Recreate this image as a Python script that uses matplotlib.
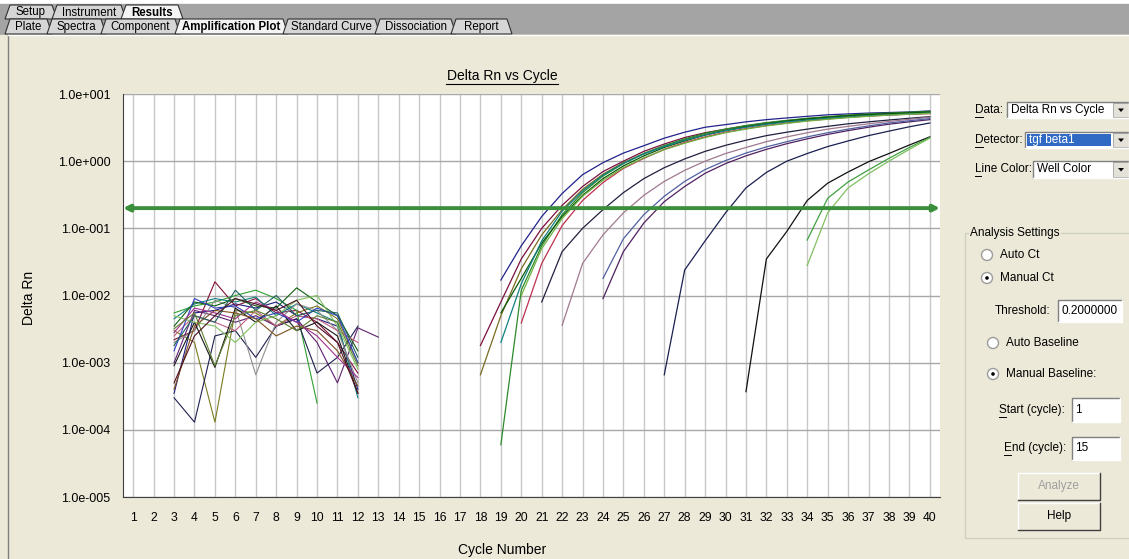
import matplotlib.pyplot as plt
from matplotlib.patches import Rectangle, Polygon, Circle

# ---- data ----
cycles = list(range(1, 41))
decade_ticks = [1e-5, 1e-4, 1e-3, 1e-2, 1e-1, 1e0, 1e1]
decade_labels = ["1.0e-005", "1.0e-004", "1.0e-003", "1.0e-002",
                 "1.0e-001", "1.0e+000", "1.0e+001"]
threshold = 0.2

# baseline noise, values x 1e-3, first cycle in noise_start
noise_start = [3] * 18
noise_values = [
    [0.35, 5.5, 6.0, 7.5, 6.5, 8.0, 5.0, 4.5, 3.5, 0.4],
    [2.2, 3.0, 16.0, 7.0, 9.0, 5.5, 6.0, 4.0, 2.0, 0.7],
    [5.5, 7.0, 8.0, 10.0, 12.0, 9.0, 6.0, 0.25],
    [3.0, 2.0, 0.13, 6.0, 5.5, 3.5, 5.5, 7.0, 4.5, 1.0],
    [4.5, 7.5, 9.0, 8.0, 9.5, 5.0, 7.5, 5.5, 4.0, 0.3],
    [1.0, 6.0, 5.0, 4.0, 5.0, 3.5, 4.5, 2.0, 0.5, 3.3, 2.4],
    [0.3, 0.13, 2.5, 3.0, 1.2, 3.5, 4.5, 0.7, 1.2, 3.5],
    [2.0, 3.0, 8.5, 6.5, 0.66, 4.0, 7.5, 6.0, 3.0, 0.5],
    [3.5, 8.0, 7.0, 9.0, 7.0, 6.5, 13.0, 8.0, 5.0, 1.5],
    [2.5, 5.0, 4.0, 3.0, 6.0, 3.5, 5.0, 4.5, 3.0, 2.0],
    [0.9, 4.0, 0.85, 6.5, 4.0, 7.0, 3.0, 4.0, 2.5, 0.35],
    [5.0, 4.0, 3.5, 2.0, 4.0, 5.0, 8.5, 10.0, 3.5, 0.8],
    [1.5, 9.0, 6.5, 7.0, 4.5, 5.5, 4.0, 6.5, 5.0, 1.0],
    [0.4, 3.5, 6.0, 5.5, 4.5, 2.5, 3.5, 3.0, 1.5, 0.45],
    [2.8, 6.5, 5.5, 4.5, 8.0, 6.0, 4.0, 2.5, 1.2, 0.6],
    [1.8, 5.0, 4.0, 12.0, 6.0, 10.0, 5.0, 6.0, 5.5, 1.2],
    [3.2, 5.5, 0.9, 5.0, 6.0, 4.5, 3.0, 5.0, 4.0, 0.9],
    [0.5, 2.5, 5.0, 9.0, 7.5, 6.0, 8.5, 3.5, 2.0, 0.35],
]
noise_colors = ["#1c1c80", "#801038", "#30a030", "#7a7a20", "#108080", "#602070",
                "#202050", "#909090", "#106010", "#c06080", "#181818", "#80c060",
                "#3040c0", "#805020", "#a03090", "#206060", "#608030", "#501020"]

# amplification curves, first cycle in amp_start
amp_start = [19, 18, 18, 19, 19, 20, 19, 20, 21, 22, 24, 24, 27, 31, 34, 34]
amp_values = [
    [0.017, 0.055, 0.15, 0.33, 0.63, 0.95, 1.32, 1.7, 2.2, 2.7, 3.2, 3.5, 3.85,
     4.15, 4.4, 4.65, 4.9, 5.05, 5.2, 5.3, 5.4, 5.6],
    [0.0018, 0.008, 0.035, 0.1, 0.22, 0.42, 0.7, 1.0, 1.4, 1.8, 2.25, 2.65, 3.0,
     3.35, 3.7, 4.0, 4.3, 4.55, 4.75, 4.95, 5.1, 5.25, 5.4],
    [0.00066, 0.005, 0.025, 0.08, 0.19, 0.38, 0.64, 0.95, 1.3, 1.7, 2.1, 2.5, 2.9,
     3.25, 3.6, 3.9, 4.2, 4.45, 4.65, 4.85, 5.0, 5.15, 5.3],
    [0.00006, 0.012, 0.055, 0.16, 0.34, 0.6, 0.92, 1.3, 1.7, 2.15, 2.6, 3.0, 3.4,
     3.75, 4.05, 4.35, 4.6, 4.85, 5.05, 5.2, 5.35, 5.5],
    [0.0055, 0.018, 0.06, 0.15, 0.31, 0.55, 0.85, 1.2, 1.6, 2.0, 2.45, 2.85, 3.25,
     3.6, 3.95, 4.25, 4.5, 4.75, 4.95, 5.1, 5.25, 5.4],
    [0.0039, 0.03, 0.11, 0.26, 0.48, 0.78, 1.1, 1.5, 1.9, 2.3, 2.7, 3.05, 3.4,
     3.7, 4.0, 4.25, 4.5, 4.7, 4.85, 5.0, 5.1],
    [0.002, 0.015, 0.065, 0.18, 0.36, 0.62, 0.93, 1.28, 1.65, 2.05, 2.45, 2.85,
     3.2, 3.55, 3.85, 4.1, 4.35, 4.55, 4.75, 4.9, 5.05, 5.2],
    [0.01, 0.05, 0.14, 0.3, 0.52, 0.8, 1.12, 1.48, 1.85, 2.25, 2.65, 3.0, 3.35,
     3.65, 3.95, 4.2, 4.45, 4.65, 4.85, 5.0, 5.15],
    [0.008, 0.045, 0.1, 0.19, 0.34, 0.55, 0.8, 1.08, 1.4, 1.72, 2.05, 2.4, 2.7,
     3.0, 3.3, 3.6, 3.85, 4.1, 4.35, 4.6],
    [0.0036, 0.03, 0.08, 0.17, 0.31, 0.5, 0.73, 1.0, 1.3, 1.6, 1.95, 2.3, 2.65,
     3.0, 3.3, 3.6, 3.9, 4.2, 4.5],
    [0.009, 0.045, 0.12, 0.25, 0.42, 0.66, 0.92, 1.2, 1.5, 1.82, 2.15, 2.5, 2.85,
     3.2, 3.55, 3.85, 4.15],
    [0.018, 0.07, 0.16, 0.3, 0.5, 0.75, 1.02, 1.32, 1.63, 1.95, 2.3, 2.65, 3.0,
     3.35, 3.7, 4.0, 4.3],
    [0.00066, 0.024, 0.065, 0.17, 0.4, 0.68, 1.0, 1.3, 1.65, 2.0, 2.4, 2.8, 3.25, 3.7],
    [0.00037, 0.035, 0.09, 0.26, 0.47, 0.69, 0.98, 1.3, 1.74, 2.3],
    [0.067, 0.28, 0.49, 0.74, 1.1, 1.6, 2.25],
    [0.028, 0.17, 0.4, 0.65, 1.0, 1.5, 2.2],
]
amp_colors = ["#22228c", "#7a1040", "#7a6a20", "#2a8a2a", "#0a5a0a", "#c03050",
              "#108080", "#70b040", "#202040", "#a07890", "#502060", "#5060a0",
              "#1a2050", "#101010", "#40a040", "#80c060"]

BG = "#ECE9D8"
W, H = 1129, 559
font = "Liberation Sans"

fig = plt.figure(figsize=(W / 100, H / 100), dpi=100, facecolor=BG)

# overlay in pixel coordinates for the window chrome
ui = fig.add_axes([0, 0, 1, 1], zorder=-1)
ui.set_xlim(0, W)
ui.set_ylim(H, 0)
ui.axis("off")

# tab strip
ui.add_patch(Rectangle((0, 0), W, 4, color="white"))
ui.add_patch(Rectangle((0, 4), W, 31, color="#a4a4a4"))
ui.add_patch(Rectangle((0, 35), W, H - 35, color=BG))
ui.plot([8, 8], [35, H], color="#808080", lw=1)
ui.plot([8, W], [35, 35], color="#ffffff", lw=1)


def tab(x0, x1, y0, y1, label, selected):
    fc = "#f4f4f4" if selected else "#d6d6d6"
    ui.add_patch(Polygon([(x0, y1), (x0 + 5, y0), (x1 - 5, y0), (x1, y1)],
                         closed=True, fc=fc, ec="#303030", lw=0.8))
    ui.text((x0 + x1) / 2, (y0 + y1) / 2 + 0.5, label, ha="center", va="center",
            fontsize=8.3, family=font, weight="bold" if selected else "normal")


row1 = [("Setup", 5, 57), ("Instrument", 52, 126), ("Results", 121, 183)]
row2 = [("Plate", 5, 52), ("Spectra", 47, 106), ("Component", 101, 180),
        ("Amplification Plot", 175, 288), ("Standard Curve", 283, 380),
        ("Dissociation", 375, 456), ("Report", 451, 512)]
for lab, a, b in row1:
    tab(a, b, 5, 19, lab, lab == "Results")
for lab, a, b in row2:
    tab(a, b, 19, 34, lab, lab == "Amplification Plot")

# plot titles
ui.text(502, 76, "Delta Rn vs Cycle", ha="center", va="center", fontsize=10, family=font)
ui.plot([446, 558], [83.5, 83.5], color="black", lw=0.8)
ui.text(502, 550, "Cycle Number", ha="center", va="center", fontsize=10, family=font)
ui.text(29, 298, "Delta Rn", ha="center", va="center", rotation=90, fontsize=10, family=font)


def label(x, y, text, ul=0, **kw):
    # text with the first `ul` pixels underlined (keyboard accelerator)
    ui.text(x, y, text, va="center", fontsize=8.5, family=font, **kw)
    if ul:
        ui.plot([x, x + ul], [y + 6.5, y + 6.5], color="black", lw=0.7)


# right-hand controls
def sunken(x, y, w, h, fc="white"):
    ui.add_patch(Rectangle((x, y), w, h, fc=fc, ec="none"))
    ui.plot([x, x, x + w], [y + h, y, y], color="#808080", lw=1)
    ui.plot([x + w, x + w, x], [y, y + h, y + h], color="#ffffff", lw=1)


def combo(x, y, w, h, text, lab, label_x, ul, highlight=False):
    sunken(x, y, w, h)
    if highlight:
        ui.add_patch(Rectangle((x + 2, y + 2), w - 20, h - 4, fc="#316ac5", ec="none"))
    ui.text(x + 4, y + h / 2, text, va="center", fontsize=8.5, family=font,
            color="white" if highlight else "black")
    bx = x + w - 16
    ui.add_patch(Rectangle((bx, y + 1), 16, h - 2, fc="#e4e2d8", ec="#a0a0a0", lw=0.6))
    ui.add_patch(Polygon([(bx + 5, y + h / 2 - 1.5), (bx + 11, y + h / 2 - 1.5),
                          (bx + 8, y + h / 2 + 2)], closed=True, fc="black", ec="none"))
    label(label_x, y + h / 2, lab, ul)


combo(1007, 102, 122, 16, "Delta Rn vs Cycle", "Data:", 975, 8)
combo(1025, 132, 104, 16, "tgf beta1", "Detector:", 975, 8, highlight=True)
combo(1033, 161, 96, 17, "Well Color", "Line Color:", 975, 6)

# group box
ui.add_patch(Rectangle((965, 233), 200, 305, fc="none", ec="#d0d0bf", lw=1))
ui.text(970, 233, "Analysis Settings", va="center", fontsize=8.5, family=font,
        bbox=dict(fc=BG, ec="none", pad=1))


def radio(x, y, text, on):
    ui.add_patch(Circle((x, y), 5.5, fc="white", ec="#9c9c9c", lw=1))
    if on:
        ui.add_patch(Circle((x, y), 1.8, fc="black", ec="none"))
    ui.text(x + 13, y, text, va="center", fontsize=8.5, family=font)


radio(987, 255, "Auto Ct", False)
radio(987, 278, "Manual Ct", True)
radio(993, 343, "Auto Baseline", False)
radio(993, 374, "Manual Baseline:", True)

label(995, 311, "Threshold:")
sunken(1058, 300, 64, 22)
label(1061, 311, "0.2000000")
label(999, 410, "Start (cycle):", 7)
sunken(1072, 398, 48, 24)
label(1075, 410, "1")
label(1004, 448, "End (cycle):", 7)
sunken(1072, 437, 48, 23)
label(1075, 448, "15")


def button(x, y, w, h, text, enabled):
    ui.add_patch(Rectangle((x, y), w, h, fc=BG, ec="none"))
    ui.plot([x, x, x + w], [y + h, y, y], color="#ffffff", lw=1)
    ui.plot([x + w, x + w, x], [y, y + h, y + h], color="#404040", lw=1)
    ui.text(x + w / 2, y + h / 2, text, ha="center", va="center", fontsize=8.5,
            family=font, color="black" if enabled else "#a0a0a0")


button(1018, 473, 82, 27, "Analyze", False)
button(1018, 503, 82, 27, "Help", True)

# ---- the amplification plot ----
ax = fig.add_axes([123 / W, 1 - 497 / H, (940 - 123) / W, (497 - 94) / H])
ax.set_facecolor("white")
ax.set_yscale("log")
ax.set_xlim(0.5, 40.5)
ax.set_ylim(1e-5, 1e1)
ax.set_xticks(cycles)
ax.set_xticklabels([str(c) for c in cycles], family=font, fontsize=8.7)
ax.set_yticks(decade_ticks)
ax.set_yticklabels(decade_labels, family=font, fontsize=9)
ax.minorticks_off()
ax.tick_params(length=0)
ax.tick_params(axis="x", pad=11)
ax.tick_params(axis="y", pad=9)
ax.xaxis.grid(True, color="#c8c8c8", lw=1)
ax.yaxis.grid(True, color="#a8a8a8", lw=1)
ax.set_axisbelow(True)
for s in ["top", "right"]:
    ax.spines[s].set_visible(False)
for s in ["left", "bottom"]:
    ax.spines[s].set_color("#404040")

for st, vals, col in zip(noise_start, noise_values, noise_colors):
    ax.plot(range(st, st + len(vals)), [v * 1e-3 for v in vals], color=col, lw=0.8)

for st, vals, col in zip(amp_start, amp_values, amp_colors):
    ax.plot(range(st, st + len(vals)), vals, color=col, lw=0.9)

ax.annotate("", xy=(40.5, threshold), xytext=(0.5, threshold),
            arrowprops=dict(arrowstyle="<|-|>", color="#3a8f3a", lw=2.8,
                            mutation_scale=9, shrinkA=0, shrinkB=0))

fig.savefig("out.png", dpi=100, facecolor=BG)
